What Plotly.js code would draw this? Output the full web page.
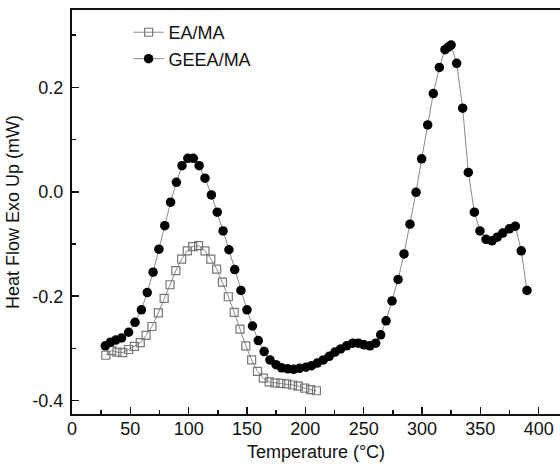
<!DOCTYPE html>
<html>
<head>
<meta charset="utf-8">
<script src="https://cdn.plot.ly/plotly-3.0.1.min.js"></script>
<style>html,body{margin:0;padding:0;background:#fff;}#chart{width:560px;height:468px;}</style>
</head>
<body>
<div id="chart"></div>
<script>
// EA/MA (open squares)
const eaTemp = [29, 34, 38.5, 43.5, 48.5, 53.5, 58.5, 63.5, 68.5, 74, 79, 84, 89, 94, 98.8, 103.5, 108.5, 114, 119, 124, 129, 134, 139, 144, 149, 154, 159, 164, 169, 174, 179, 184, 189, 194, 199.5, 204.5, 209.5];
const eaFlow = [-0.313, -0.304, -0.307, -0.308, -0.302, -0.296, -0.289, -0.275, -0.258, -0.232, -0.204, -0.178, -0.151, -0.129, -0.113, -0.105, -0.103, -0.113, -0.129, -0.148, -0.173, -0.201, -0.231, -0.263, -0.295, -0.322, -0.344, -0.357, -0.364, -0.366, -0.367, -0.368, -0.370, -0.372, -0.376, -0.379, -0.381];

// GEEA/MA (filled circles)
const geeaTemp = [28.5, 33, 37.5, 42.5, 48.5, 54, 59.5, 64.5, 69.5, 74.5, 79.5, 84.5, 89.5, 94.3, 99.3, 104, 109, 114, 119.5, 124.5, 129.5, 134.5, 139.5, 144.8, 150, 154.7, 159.7, 164.7, 169.7, 174.9, 179.7, 185, 190, 195, 200.5, 205.4, 210.2, 215.4, 220.5, 225.4, 230.3, 235.4, 240.6, 245.4, 250.3, 255.4, 260.3, 264.6, 269.2, 274.3, 279.5, 284.6, 289.7, 294.9, 299.7, 304.9, 309.7, 314.9, 319.7, 322.5, 325, 329.7, 334.9, 339.7, 344.9, 349.7, 354.9, 360, 364.5, 369.2, 374.9, 380, 385.1, 390];
const geeaFlow = [-0.295, -0.288, -0.284, -0.280, -0.269, -0.250, -0.226, -0.193, -0.154, -0.110, -0.065, -0.020, 0.018, 0.050, 0.064, 0.064, 0.050, 0.026, -0.006, -0.039, -0.075, -0.111, -0.149, -0.189, -0.226, -0.257, -0.285, -0.306, -0.322, -0.331, -0.337, -0.339, -0.340, -0.338, -0.336, -0.333, -0.328, -0.322, -0.315, -0.307, -0.301, -0.295, -0.290, -0.290, -0.293, -0.295, -0.290, -0.274, -0.247, -0.209, -0.168, -0.119, -0.062, -0.001, 0.063, 0.128, 0.188, 0.238, 0.272, 0.277, 0.281, 0.246, 0.160, 0.037, -0.039, -0.075, -0.091, -0.094, -0.087, -0.079, -0.071, -0.066, -0.113, -0.189];

const seriesNames = ['EA/MA', 'GEEA/MA'];
const xTickVals = [0, 50, 100, 150, 200, 250, 300, 350, 400];
const yTickVals = [-0.4, -0.2, 0.0, 0.2];
const yTickText = ['-0.4', '-0.2', '0.0', '0.2'];

const FONT = 'Liberation Sans, Arial, sans-serif';
const FS = 18;

const traces = [
  {
    x: eaTemp, y: eaFlow, name: seriesNames[0], type: 'scatter', mode: 'lines+markers',
    line: {color: '#8a8a8a', width: 1},
    marker: {symbol: 'square-open', size: 8, color: '#777', line: {color: '#777', width: 1.2}}
  },
  {
    x: geeaTemp, y: geeaFlow, name: seriesNames[1], type: 'scatter', mode: 'lines+markers',
    line: {color: '#8a8a8a', width: 1},
    marker: {symbol: 'circle', size: 9.5, color: '#000'}
  }
];

const layout = {
  width: 560, height: 468,
  margin: {l: 72, r: 0, t: 10, b: 54},
  paper_bgcolor: '#fff', plot_bgcolor: '#fff',
  font: {family: FONT, size: FS, color: '#111'},
  showlegend: true,
  legend: {x: 0.116, y: 0.99, xanchor: 'left', yanchor: 'top', bgcolor: 'rgba(0,0,0,0)',
           font: {family: FONT, size: FS, color: '#111'}, tracegroupgap: 0},
  xaxis: {
    range: [0, 418.3], autorange: false,
    tickvals: xTickVals, ticks: 'inside', ticklen: 7, tickwidth: 1.5, tickcolor: '#111',
    ticklabelstandoff: -3,
    minor: {dtick: 25, tick0: 0, ticks: 'inside', ticklen: 4, tickwidth: 1.5, tickcolor: '#111', showgrid: false},
    showline: true, linecolor: '#111', linewidth: 2, mirror: true,
    showgrid: false, zeroline: false, automargin: false,
    tickfont: {family: FONT, size: FS, color: '#111'},
    title: {text: 'Temperature (°C)', font: {family: FONT, size: FS, color: '#111'}, standoff: 8}
  },
  yaxis: {
    range: [-0.4255, 0.348], autorange: false,
    tickvals: yTickVals, ticktext: yTickText, ticks: 'inside', ticklen: 7, tickwidth: 1.5, tickcolor: '#111',
    ticklabelstandoff: 3,
    minor: {dtick: 0.1, tick0: 0, ticks: 'inside', ticklen: 4, tickwidth: 1.5, tickcolor: '#111', showgrid: false},
    showline: true, linecolor: '#111', linewidth: 2,
    showgrid: false, zeroline: false, automargin: false,
    tickfont: {family: FONT, size: FS, color: '#111'},
    title: {text: 'Heat Flow Exo Up (mW)', font: {family: FONT, size: FS, color: '#111'}, standoff: 8}
  }
};

Plotly.newPlot('chart', traces, layout, {displayModeBar: false, staticPlot: true});
</script>
</body>
</html>
